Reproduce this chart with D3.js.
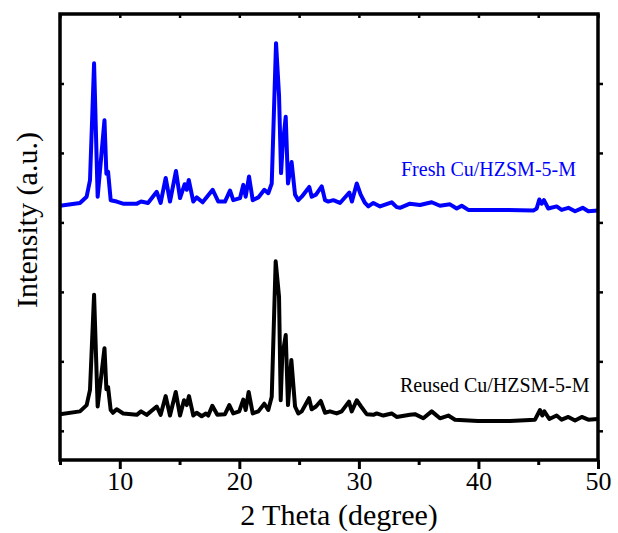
<!DOCTYPE html>
<html>
<head>
<meta charset="utf-8">
<script src="https://cdn.jsdelivr.net/npm/d3@7"></script>
<style>
  body { margin: 0; background: #fff; }
  text { font-family: "Liberation Serif", "Times New Roman", serif; }
</style>
</head>
<body>
<div id="chart"></div>
<script>
// XRD patterns, 2 theta (degree) vs intensity (a.u.)
var reusedTheta = [5.00, 6.67, 7.23, 7.51, 7.85, 8.15, 8.72, 8.88, 9.02, 9.24, 9.43, 9.74, 10.29, 11.42, 11.78, 12.25,
  13.09, 13.42, 13.84, 14.20, 14.68, 15.04, 15.37, 15.60, 15.79, 16.15, 16.43, 16.85, 17.21, 17.40, 17.74, 18.16,
  18.80, 19.16, 19.49, 19.99, 20.33, 20.53, 20.78, 21.12, 21.59, 22.09, 22.42, 22.71, 23.04, 23.32, 23.46, 23.59,
  23.88, 24.07, 24.35, 24.66, 24.93, 25.22, 25.83, 26.05, 26.41, 26.81, 27.17, 27.58, 28.14, 28.56, 29.17, 29.40,
  29.82, 30.18, 30.65, 31.21, 31.49, 32.04, 32.74, 33.16, 34.27, 34.69, 35.39, 36.09, 36.78, 37.48, 38.04, 39.96,
  42.64, 44.73, 45.15, 45.34, 45.51, 45.93, 46.54, 46.96, 47.52, 48.08, 48.64, 49.19, 50.00];
var reusedCounts = [240, 280, 370, 590, 1960, 350, 1190, 600, 630, 300, 260, 310, 250, 230, 280, 230,
  350, 230, 500, 220, 560, 220, 440, 370, 500, 220, 260, 210, 250, 220, 360, 230,
  240, 370, 250, 280, 450, 300, 560, 250, 280, 390, 300, 490, 2440, 1930, 440, 1070,
  1380, 370, 1020, 350, 250, 280, 470, 310, 350, 430, 260, 280, 250, 280, 420, 280,
  440, 350, 240, 230, 250, 220, 250, 200, 230, 240, 180, 280, 180, 220, 160, 140,
  140, 160, 300, 220, 280, 170, 220, 160, 200, 150, 200, 160, 170];

var freshTheta = [5.00, 6.67, 7.23, 7.51, 7.85, 8.15, 8.72, 8.88, 9.02, 9.24, 9.74, 10.27, 11.44, 11.78, 12.36,
  13.09, 13.42, 13.84, 14.20, 14.70, 15.04, 15.43, 15.60, 15.77, 16.15, 16.43, 16.93, 17.77, 18.24, 18.80, 19.22,
  19.49, 20.06, 20.33, 20.53, 20.81, 21.12, 21.59, 22.09, 22.42, 22.71, 23.07, 23.32, 23.49, 23.62, 23.88, 24.07,
  24.37, 24.66, 24.93, 25.22, 25.85, 26.05, 26.41, 26.89, 27.17, 27.44, 27.86, 28.42, 29.20, 29.42, 29.82, 30.15,
  30.51, 30.79, 31.21, 31.77, 32.74, 33.16, 33.44, 34.27, 35.11, 36.09, 36.78, 37.62, 38.18, 38.60, 39.15, 41.80,
  44.59, 44.87, 45.09, 45.29, 45.48, 45.84, 46.54, 46.96, 47.52, 48.08, 48.72, 49.19, 50.00];
var freshCounts = [240, 280, 370, 610, 2290, 370, 1470, 700, 730, 320, 300, 270, 270, 300, 280,
  440, 280, 640, 300, 740, 350, 550, 470, 610, 300, 360, 290, 470, 300, 300, 460,
  320, 350, 540, 370, 660, 320, 360, 470, 420, 560, 2580, 1830, 710, 1090, 1520, 560,
  870, 400, 320, 370, 510, 370, 400, 520, 320, 300, 320, 280, 430, 300, 560, 400,
  280, 230, 280, 230, 290, 220, 210, 270, 250, 290, 240, 260, 200, 240, 180, 180,
  170, 200, 330, 270, 320, 200, 230, 180, 210, 160, 210, 160, 170];
var freshOffset = 3000;

var xMajor = [10, 20, 30, 40, 50];
var xMinor = [5, 15, 25, 35, 45];
var yTicks = [0, 1000, 2000, 3000, 4000, 5000];

var width = 618, height = 533;
var margin = { top: 14, right: 20, bottom: 73, left: 60 };

var svg = d3.select("#chart").append("svg")
  .attr("width", width)
  .attr("height", height);

var x = d3.scaleLinear().domain([5, 50]).range([margin.left, width - margin.right]);
var y = d3.scaleLinear().domain([-420, 6000]).range([height - margin.bottom, margin.top]);

var line = d3.line()
  .x(function (d) { return x(d[0]); })
  .y(function (d) { return y(d[1]); });

var reused = d3.zip(reusedTheta, reusedCounts);
var fresh = d3.zip(freshTheta, freshCounts.map(function (v) { return v + freshOffset; }));

svg.append("path")
  .datum(reused)
  .attr("d", line)
  .attr("fill", "none")
  .attr("stroke", "#000")
  .attr("stroke-width", 4)
  .attr("stroke-linejoin", "round");

svg.append("path")
  .datum(fresh)
  .attr("d", line)
  .attr("fill", "none")
  .attr("stroke", "#0000ff")
  .attr("stroke-width", 4)
  .attr("stroke-linejoin", "round");

// axes
var plotBottom = y.range()[0], plotTop = y.range()[1];
var plotLeft = x.range()[0], plotRight = x.range()[1];

svg.append("g")
  .attr("transform", "translate(0," + plotBottom + ")")
  .call(d3.axisBottom(x).tickValues(xMajor).tickSize(9).tickSizeOuter(0).tickFormat(d3.format("d")))
  .call(function (g) {
    g.select(".domain").remove();
    g.selectAll("line").attr("stroke-width", 3);
    g.selectAll("text")
      .attr("font-size", 26)
      .attr("fill", "#000")
      .attr("y", 12)
      .attr("dy", "0.71em")
      .style("font-family", "'Liberation Serif', 'Times New Roman', serif");
  });

svg.append("g")
  .attr("transform", "translate(0," + plotBottom + ")")
  .call(d3.axisBottom(x).tickValues(xMinor).tickSize(5).tickFormat(""))
  .call(function (g) {
    g.select(".domain").remove();
    g.selectAll("line").attr("stroke-width", 3);
  });

svg.append("g")
  .attr("transform", "translate(0," + plotTop + ")")
  .call(d3.axisBottom(x).tickValues(xMajor.concat(xMinor)).tickSize(4).tickFormat(""))
  .call(function (g) {
    g.select(".domain").remove();
    g.selectAll("line").attr("stroke-width", 2.5);
  });

svg.append("g")
  .attr("transform", "translate(" + plotLeft + ",0)")
  .call(d3.axisRight(y).tickValues(yTicks).tickSize(4).tickFormat(""))
  .call(function (g) {
    g.select(".domain").remove();
    g.selectAll("line").attr("stroke-width", 2.5);
  });

svg.append("g")
  .attr("transform", "translate(" + plotRight + ",0)")
  .call(d3.axisRight(y).tickValues(yTicks).tickSize(5).tickFormat(""))
  .call(function (g) {
    g.select(".domain").remove();
    g.selectAll("line").attr("stroke-width", 2.5);
  });

svg.append("rect")
  .attr("x", plotLeft)
  .attr("y", plotTop)
  .attr("width", plotRight - plotLeft)
  .attr("height", plotBottom - plotTop)
  .attr("fill", "none")
  .attr("stroke", "#000")
  .attr("stroke-width", 3.5);

// labels
svg.append("text")
  .attr("x", 339)
  .attr("y", 525)
  .attr("text-anchor", "middle")
  .attr("font-size", 30)
  .text("2 Theta (degree)");

svg.append("text")
  .attr("transform", "translate(37,220) rotate(-90)")
  .attr("text-anchor", "middle")
  .attr("font-size", 30)
  .text("Intensity (a.u.)");

svg.append("text")
  .attr("x", 401)
  .attr("y", 176)
  .attr("font-size", 20)
  .attr("fill", "#0000ff")
  .text("Fresh Cu/HZSM-5-M");

svg.append("text")
  .attr("x", 400)
  .attr("y", 392)
  .attr("font-size", 20)
  .attr("fill", "#000")
  .text("Reused Cu/HZSM-5-M");
</script>
</body>
</html>
